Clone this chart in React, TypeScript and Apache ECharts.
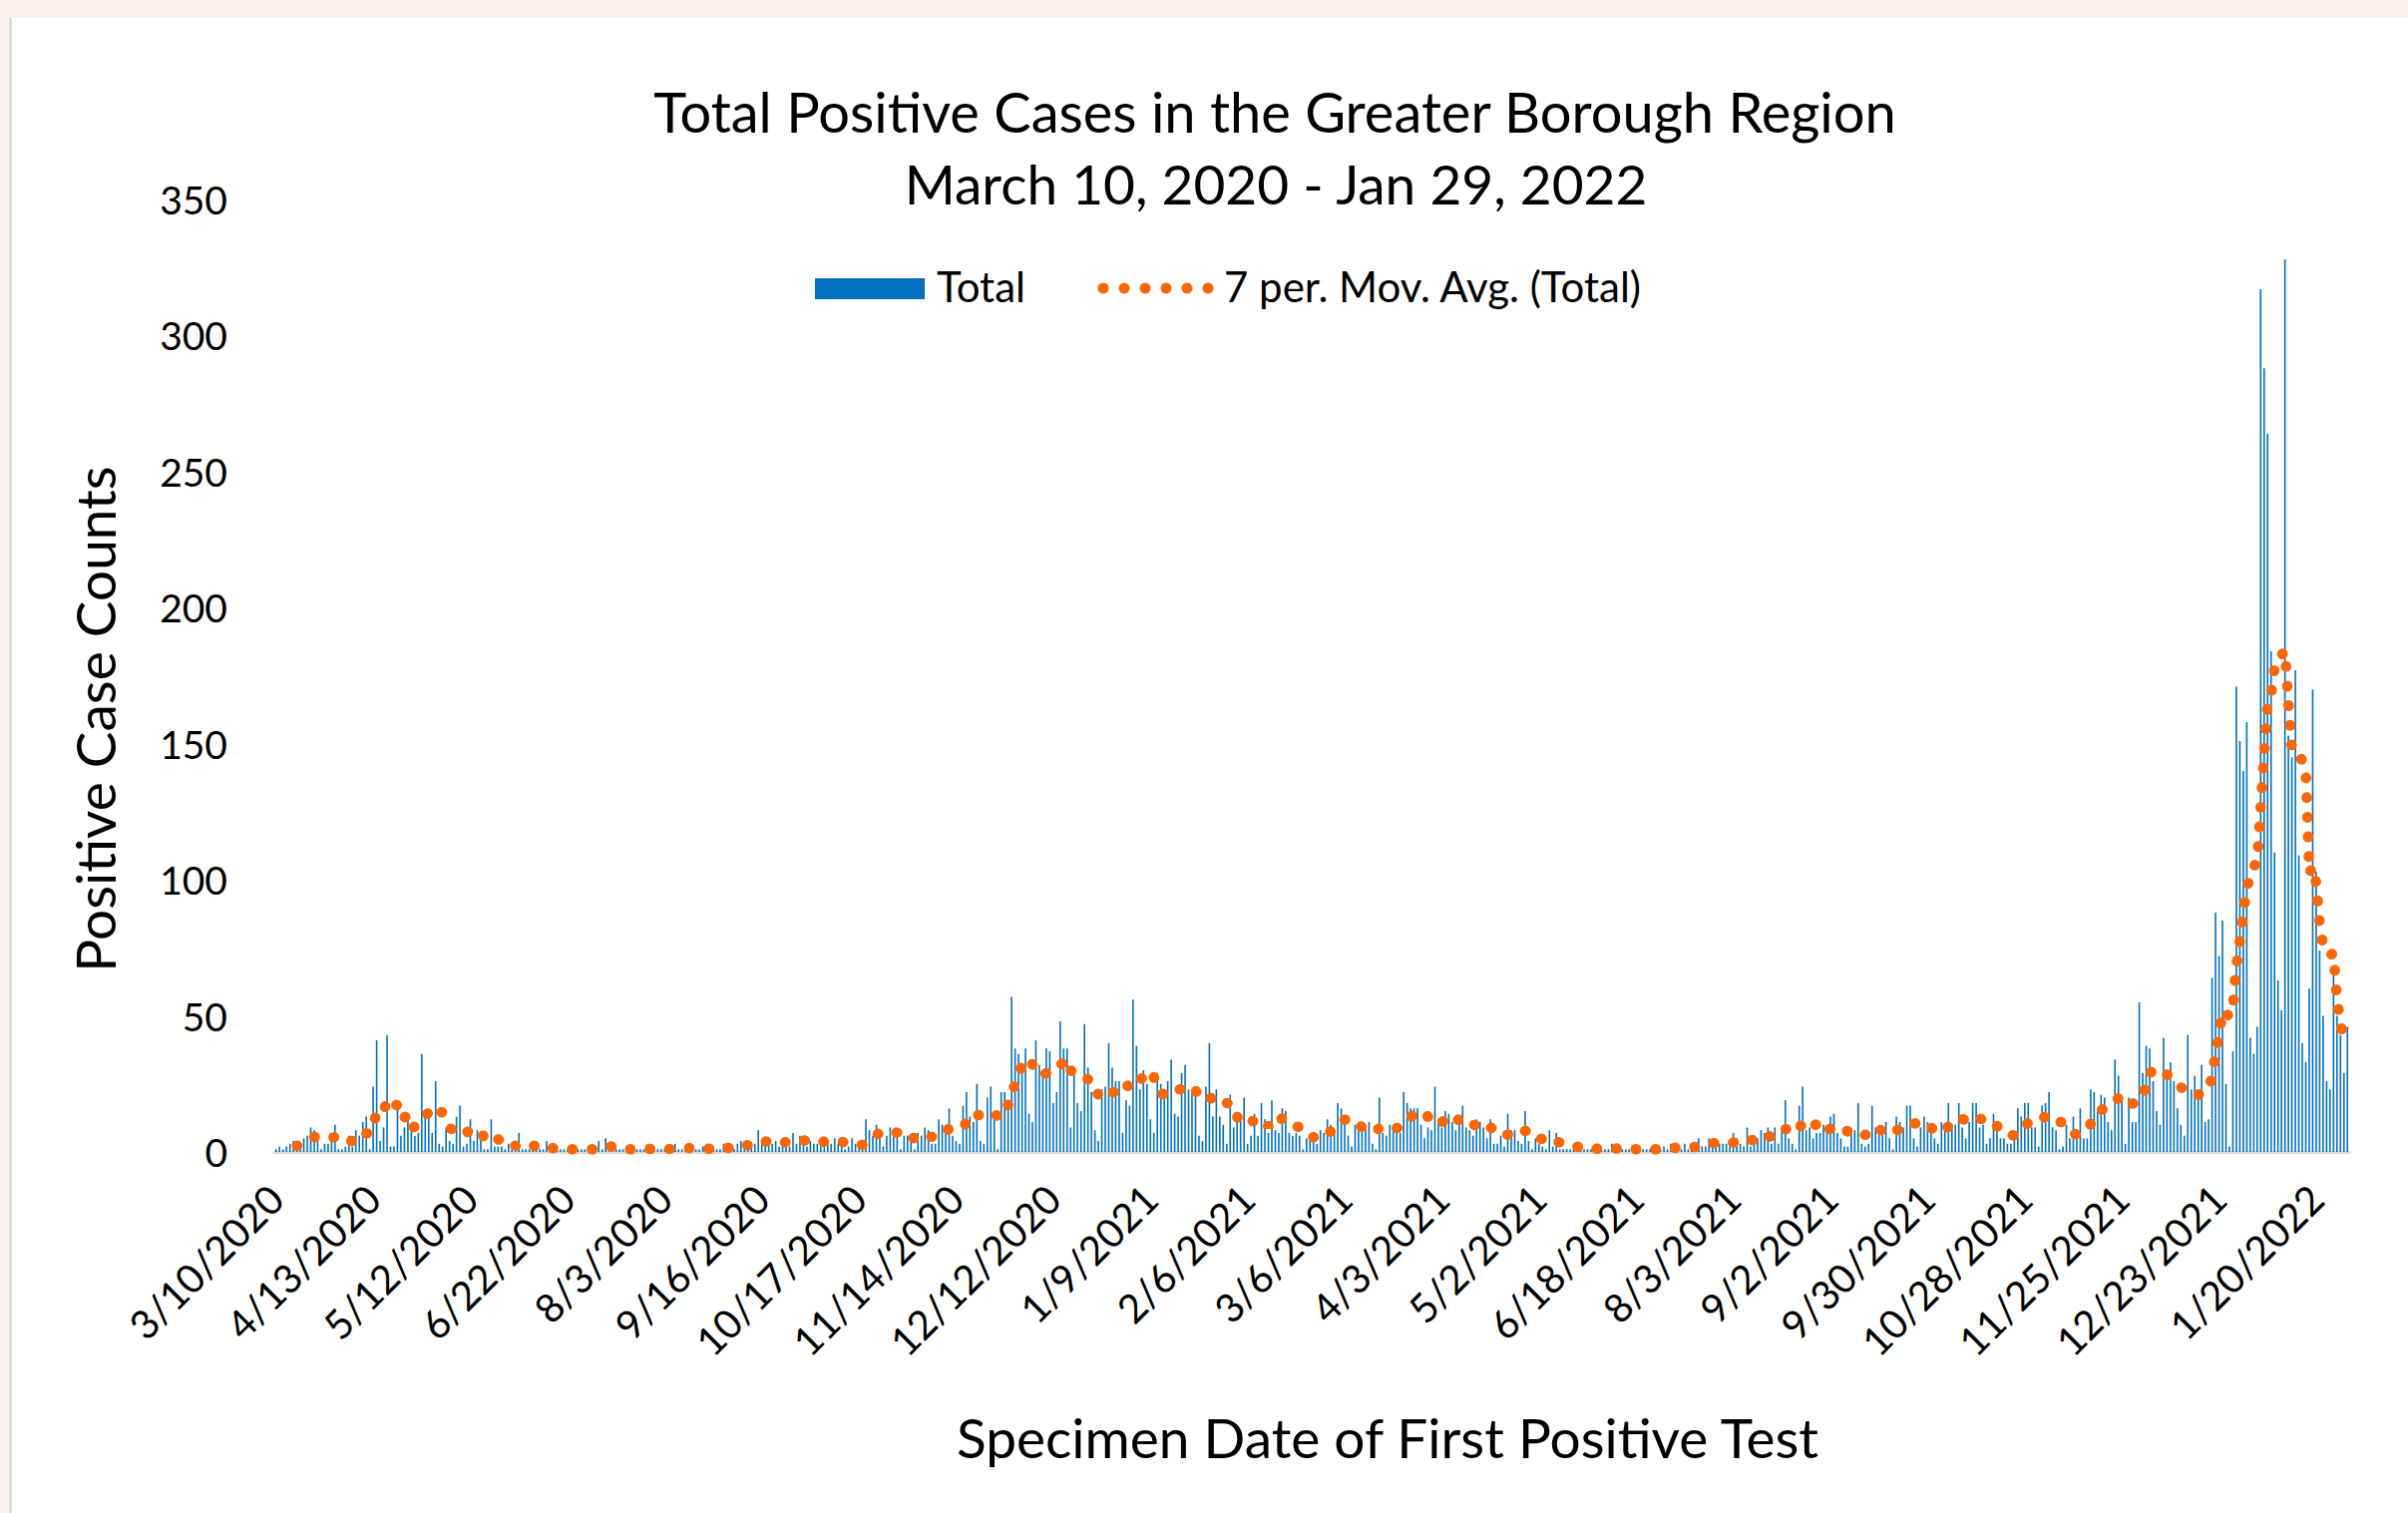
import React, { useEffect, useRef } from 'react';
import * as echarts from 'echarts';

// Tick labels shown on the category axis (every 28th specimen date)
const tickLabels = [
  '3/10/2020', '4/13/2020', '5/12/2020', '6/22/2020', '8/3/2020', '9/16/2020',
  '10/17/2020', '11/14/2020', '12/12/2020', '1/9/2021', '2/6/2021', '3/6/2021',
  '4/3/2021', '5/2/2021', '6/18/2021', '8/3/2021', '9/2/2021', '9/30/2021',
  '10/28/2021', '11/25/2021', '12/23/2021', '1/20/2022',
];

// Daily positive case counts, in date order
const spring2020 = [
  1, 2, 1, 2, 3, 4, 3, 3, 5, 6,
  9, 8, 7, 1, 3, 3, 6, 10, 1, 1,
  2, 6, 2, 8, 6, 11, 13, 1, 24, 41,
  4, 9, 43, 2, 2, 18, 6, 9, 14, 10,
  6, 7, 36, 14, 13, 7, 26, 3, 2, 9,
  4, 3, 13, 17, 2, 3, 12, 4, 8, 7,
  1, 1, 12, 2, 2, 2, 1, 3, 2, 3,
  7, 1, 1, 1, 1, 1, 1, 1, 4, 1,
  1, 1, 1, 1, 1, 1, 1, 1, 1, 1,
  1, 1, 1, 4, 1, 5, 1, 1, 1,
];
const summerFall2020 = [
  1, 1, 1, 1, 1, 1, 1, 1, 1, 2,
  1, 1, 1, 1, 1, 1, 3, 1, 1, 2,
  1, 1, 1, 1, 2, 1, 1, 2, 1, 1,
  3, 1, 2, 1, 3, 4, 4, 2, 3, 3,
  8, 3, 4, 4, 3, 4, 2, 4, 4, 2,
  7, 3, 6, 4, 2, 4, 3, 3, 5, 5,
  4, 3, 5, 3, 2, 1, 2, 5, 3, 3,
  2, 12, 8, 6, 10, 8, 2, 6, 9, 8,
  7, 1, 6, 6, 5, 1, 7, 6, 9, 8,
  3, 3, 12, 10, 8, 16, 6, 4, 3, 17,
  22, 13,
];
const winter2020 = [
  11, 25, 4, 3, 20, 24, 14, 1, 22, 22,
  18, 57, 38, 36, 31, 38, 14, 11, 41, 32,
  29, 38, 37, 18, 22, 48, 38, 38, 9, 29,
  18, 15, 47, 31, 22, 8, 4, 23, 24, 40,
  31, 26, 26, 7, 19, 17, 56, 39, 23, 30,
  25, 12, 7, 29, 25, 20, 26, 34, 14, 13,
  29, 32, 23, 22, 24, 6, 4, 24, 40, 13,
  23, 13, 10, 3, 21, 9, 11, 13, 20, 3,
  6, 14, 6, 18, 12, 7, 19, 8, 7, 16,
  15, 7, 6, 7, 6, 1, 5, 6, 7, 3,
  8, 7, 12, 10,
];
const spring2021 = [
  8, 18, 16, 12, 6, 2, 10, 9, 8, 10,
  11, 3, 1, 20, 7, 6, 10, 10, 7, 7,
  22, 18, 16, 16, 16, 10, 5, 9, 8, 24,
  12, 9, 15, 14, 11, 8, 10, 17, 9, 8,
  6, 12, 11, 9, 5, 12, 3, 3, 6, 2,
  14, 8, 8, 4, 3, 15, 4, 1, 5, 3,
  2, 1, 8, 2, 7, 1, 1, 1, 1, 2,
  1, 2, 1, 1, 1, 1, 1, 1, 1, 1,
  3, 1, 1, 1, 1, 1, 1, 1, 1, 1,
  1, 1, 1, 1, 1, 2, 1, 3, 2, 1,
  1, 3, 1, 2,
];
const summerFall2021 = [
  3, 5, 2, 2, 5, 3, 3, 3, 3, 3,
  2, 7, 5, 3, 2, 9, 2, 3, 5, 8,
  7, 9, 3, 9, 3, 9, 19, 5, 3, 1,
  17, 24, 8, 9, 5, 7, 7, 10, 9, 13,
  14, 7, 5, 2, 2, 9, 8, 18, 3, 2,
  3, 17, 9, 9, 8, 11, 5, 1, 13, 11,
  9, 17, 17, 5, 2, 9, 13, 11, 7, 5,
  3, 11, 10, 18, 10, 10, 18, 9, 5, 11,
  18, 18, 9, 10, 3, 5, 14, 8, 5, 5,
  3, 3, 5, 16, 13, 18, 18, 9, 9, 2,
  17, 18, 22, 9,
];
const lateFall2021 = [
  8, 1, 2, 10, 5, 13, 5, 16, 5, 5,
  23, 22, 16, 21, 20, 11, 8, 34, 28, 20,
  3, 20, 11, 11, 55, 29, 39, 38, 26, 15,
  10, 42, 29, 33, 26, 16, 10, 6, 43, 23,
  28,
];
const omicronWave = [
  20, 32, 11, 12, 64, 88, 72, 85, 25, 2,
  37, 171, 151, 140, 158, 42, 36, 46, 317, 288,
  264, 184, 110, 63, 52, 328, 153, 145, 177, 109,
  40, 33, 60, 170, 103, 74, 50, 26, 23, 66,
  50, 43, 29, 46,
];

const totals: number[] = [
  ...spring2020, ...summerFall2020, ...winter2020, ...spring2021,
  ...summerFall2021, ...lateFall2021, ...omicronWave,
];

function shiftDate(label: string, days: number): string {
  const [m, d, y] = label.split('/').map(Number);
  const dt = new Date(Date.UTC(y, m - 1, d + days));
  return `${dt.getUTCMonth() + 1}/${dt.getUTCDate()}/${dt.getUTCFullYear()}`;
}

const categories = totals.map((_, i) => shiftDate(tickLabels[Math.floor(i / 28)], i % 28));

// 7-period moving average trendline (as Excel computes it)
const movingAvg = totals.map((_, i) =>
  i < 6 ? null : totals.slice(i - 6, i + 1).reduce((a, b) => a + b, 0) / 7
);

const FONT = 'Lato, "Open Sans", sans-serif';
const BAR_COLOR = '#0070C0';
const AVG_COLOR = '#FF6600';
const BAR_NAME = 'Total';
const AVG_NAME = '7 per. Mov. Avg. (Total)';

function centeredText(text: string, x: number, y: number, size: number, rotation = 0) {
  return {
    type: 'text',
    x,
    y,
    rotation,
    style: {
      text,
      fontSize: size,
      fontFamily: FONT,
      fill: '#000',
      align: 'center',
      verticalAlign: 'middle',
      textAlign: 'center',
      textVerticalAlign: 'middle',
    },
  };
}

function legendText(text: string, x: number, y: number) {
  return {
    type: 'text',
    x,
    y,
    style: {
      text,
      fontSize: 42,
      fontFamily: FONT,
      fill: '#000',
      align: 'left',
      verticalAlign: 'middle',
      textAlign: 'left',
      textVerticalAlign: 'middle',
    },
  };
}

const legendDots = [0, 1, 2, 3, 4, 5].map((k) => ({
  type: 'circle',
  shape: { cx: 1106 + k * 21, cy: 289, r: 5.5 },
  style: { fill: AVG_COLOR },
}));

export default function App() {
  const ref = useRef<HTMLDivElement>(null);

  useEffect(() => {
    if (!ref.current) return;
    const chart = echarts.init(ref.current, null, { renderer: 'svg' });
    chart.setOption({
      animation: false,
      backgroundColor: 'transparent',
      textStyle: { fontFamily: FONT },
      grid: { left: 275, right: 59, top: 200, bottom: 362 },
      xAxis: {
        type: 'category',
        data: categories,
        axisLine: { lineStyle: { color: '#d9d9d9', width: 3 } },
        axisTick: { show: false },
        axisLabel: {
          interval: 27,
          rotate: 45,
          margin: 40,
          fontSize: 40,
          color: '#000',
          fontFamily: FONT,
        },
      },
      yAxis: {
        type: 'value',
        min: 0,
        max: 350,
        interval: 50,
        axisLine: { show: false },
        axisTick: { show: false },
        splitLine: { show: false },
        axisLabel: { margin: 47, fontSize: 39, color: '#000', fontFamily: FONT },
      },
      series: [
        {
          name: BAR_NAME,
          type: 'bar',
          data: totals,
          barWidth: 1.6,
          itemStyle: { color: BAR_COLOR },
        },
        {
          name: AVG_NAME,
          type: 'line',
          data: movingAvg,
          symbol: 'none',
          itemStyle: { color: AVG_COLOR },
          lineStyle: { color: AVG_COLOR, width: 10.5, type: [0.5, 19.2], cap: 'round' },
        },
      ],
      graphic: [
        centeredText('Total Positive Cases in the Greater Borough Region', 1278, 111, 56),
        centeredText('March 10, 2020 - Jan 29, 2022', 1279, 184, 55),
        centeredText('Positive Case Counts', 95, 721, 55, Math.PI / 2),
        centeredText('Specimen Date of First Positive Test', 1391, 1441, 55),
        {
          type: 'rect',
          shape: { x: 817, y: 279, width: 110, height: 21 },
          style: { fill: BAR_COLOR },
        },
        legendText(BAR_NAME, 939, 287),
        ...legendDots,
        legendText(AVG_NAME, 1227, 287),
      ],
    });
    return () => chart.dispose();
  }, []);

  return (
    <div
      style={{
        position: 'fixed',
        left: 0,
        top: 0,
        width: 2414,
        height: 1517,
        background: '#fcf3f1',
        overflow: 'hidden',
      }}
    >
      <div style={{ position: 'absolute', left: 9, top: 18, width: 3, bottom: 0, background: '#dcdcdc' }} />
      <div style={{ position: 'absolute', left: 12, top: 18, right: 0, bottom: 0, background: '#ffffff' }} />
      <div ref={ref} style={{ position: 'absolute', left: 0, top: 0, width: 2414, height: 1517 }} />
    </div>
  );
}
